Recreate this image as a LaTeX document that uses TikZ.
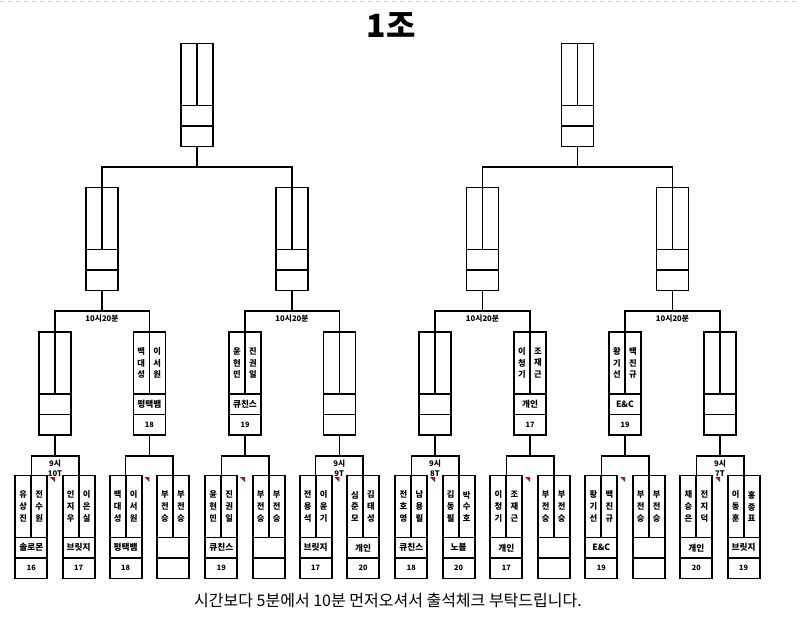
\documentclass[tikz,border=0pt]{standalone}
\usepackage{fontspec}
\setmainfont{Noto Sans CJK KR}
\usepackage{tikz}
\usetikzlibrary{calc}
\usepackage{xcolor}
\definecolor{memo}{HTML}{A3161A}

\begin{document}
\begin{tikzpicture}[
    x=0.75pt, y=-0.75pt,
    box/.style={draw, line width=1pt, minimum width=24pt, minimum height=77.25pt, outer sep=0pt, inner sep=0pt},
    rbox/.style={box, line width=1.4pt},
    cell/.style={line width=1pt},
    rcell/.style={line width=1.4pt},
    link/.style={line width=1.2pt},
    nm/.style={font=\fontsize{6.2}{8.8}\selectfont\bfseries, align=center, inner sep=0pt},
    club/.style={font=\fontsize{6.5}{7}\selectfont\bfseries, inner sep=0pt},
    seed/.style={font=\fontsize{5.5}{6}\selectfont\bfseries, inner sep=0pt},
    time/.style={font=\fontsize{5.8}{7.5}\selectfont\bfseries, align=center, inner sep=0pt},
]
\useasboundingbox (0,0) rectangle (800,621);
\draw[gray!35, dashed, line width=0.6pt] (0,1) -- (800,1);

% Title
\node[font=\fontsize{24}{28}\selectfont\bfseries] (title) at (391,25) {1조};

% Final
\node[box] (f1) at (197,95) {};
\node[box] (f2) at (577.5,95) {};

% Semi-final
\foreach \n/\x in {s1/102, s2/292, s3/482.5, s4/672.5}
  \node[box] (\n) at (\x,239) {};

% Second round
\foreach \n/\x in {q1/55, q2/149.3, q3/245, q4/339.3, q5/435, q6/530, q7/625, q8/720}
  \node[box] (\n) at (\x,383.5) {};

% First round
\foreach \n/\x in {b1/31.3, b2/78.7, b3/125.6, b4/173, b5/221.3, b6/268.7, b7/315.6, b8/363,
                   b9/411.3, b10/458.7, b11/506.3, b12/553.7, b13/601.3, b14/648.7, b15/696.3, b16/743.7}
  \node[rbox] (\n) at (\x,527) {};

% Cells
\foreach \n in {f1,f2,s1,s2,s3,s4,q1,q2,q3,q4,q5,q6,q7,q8}{
  \draw[cell] (\n.north) -- ++(0,62);
  \draw[cell] ($(\n.north west)+(0,62)$) -- ($(\n.north east)+(0,62)$);
  \draw[cell] ($(\n.north west)+(0,82.5)$) -- ($(\n.north east)+(0,82.5)$);
}
\foreach \n in {b1,b2,b3,b4,b5,b6,b7,b8,b9,b10,b11,b12,b13,b14,b15,b16}{
  \draw[rcell] (\n.north) -- ++(0,62);
  \draw[rcell] ($(\n.north west)+(0,62)$) -- ($(\n.north east)+(0,62)$);
  \draw[rcell] ($(\n.north west)+(0,82.5)$) -- ($(\n.north east)+(0,82.5)$);
}

% Players
\foreach \n/\first/\second/\team/\num in {
    b1/{유\\상\\진}/{전\\수\\원}/솔로몬/16,
    b2/{인\\지\\우}/{이\\은\\실}/브릿지/17,
    b3/{백\\대\\성}/{이\\서\\원}/평택뱀/18,
    b4/{부\\전\\승}/{부\\전\\승}//,
    b5/{윤\\현\\민}/{진\\권\\일}/큐친스/19,
    b6/{부\\전\\승}/{부\\전\\승}//,
    b7/{전\\용\\석}/{이\\윤\\기}/브릿지/17,
    b8/{심\\준\\모}/{김\\태\\성}/개인/20,
    b9/{전\\호\\영}/{남\\용\\필}/큐친스/18,
    b10/{김\\동\\필}/{박\\수\\호}/노블/20,
    b11/{이\\청\\기}/{조\\재\\근}/개인/17,
    b12/{부\\전\\승}/{부\\전\\승}//,
    b13/{황\\기\\선}/{백\\진\\규}/E\&C/19,
    b14/{부\\전\\승}/{부\\전\\승}//,
    b15/{채\\승\\은}/{전\\지\\덕}/개인/20,
    b16/{이\\동\\훈}/{홍\\종\\표}/브릿지/19,
    q2/{백\\대\\성}/{이\\서\\원}/평택뱀/18,
    q3/{윤\\현\\민}/{진\\권\\일}/큐친스/19,
    q6/{이\\청\\기}/{조\\재\\근}/개인/17,
    q7/{황\\기\\선}/{백\\진\\규}/E\&C/19}{
  \node[nm] (\n-a) at ($(\n.north)+(-8,31)$) {\first};
  \node[nm] (\n-b) at ($(\n.north)+(8,31)$) {\second};
  \node[club] (\n-c) at ($(\n.north)+(0,72.25)$) {\team};
  \node[seed] (\n-d) at ($(\n.north)+(0,92.75)$) {\num};
}

% Brackets
\draw[link] (f1.south) -- ++(0,20.5) -| (s1.north);
\draw[link] (f1.south) -- ++(0,20.5) -| (s2.north);
\draw[link] (f2.south) -- ++(0,20.5) -| (s3.north);
\draw[link] (f2.south) -- ++(0,20.5) -| (s4.north);
\foreach \up/\l/\r in {s1/q1/q2, s2/q3/q4, s3/q5/q6, s4/q7/q8}{
  \draw[link] (\up.south) -- ++(0,20.5) -| (\l.north);
  \draw[link] (\up.south) -- ++(0,20.5) -| (\r.north);
  \node[time] (\up-time) at ($(\up.south)+(0,28.5)$) {10시20분};
}
\foreach \up/\l/\r in {q1/b1/b2, q2/b3/b4, q3/b5/b6, q4/b7/b8, q5/b9/b10, q6/b11/b12, q7/b13/b14, q8/b15/b16}{
  \draw[link] (\up.south) -- ++(0,21) -| (\l.north);
  \draw[link] (\up.south) -- ++(0,21) -| (\r.north);
  \fill[memo] ($(\up.south)+(-5,42)$) -- ++(5,0) -- ++(0,5) -- cycle;
}

% Start times
\node[time] (q1-time) at ($(q1.south)+(0,33)$) {9시\\10T};
\node[time] (q4-time) at ($(q4.south)+(0,33)$) {9시\\9T};
\node[time] (q5-time) at ($(q5.south)+(0,33)$) {9시\\8T};
\node[time] (q8-time) at ($(q8.south)+(0,33)$) {9시\\7T};

% Note
\node[font=\fontsize{12}{14}\selectfont] (note) at (388,600) {시간보다 5분에서 10분 먼저오셔서 출석체크 부탁드립니다.};
\end{tikzpicture}
\end{document}
